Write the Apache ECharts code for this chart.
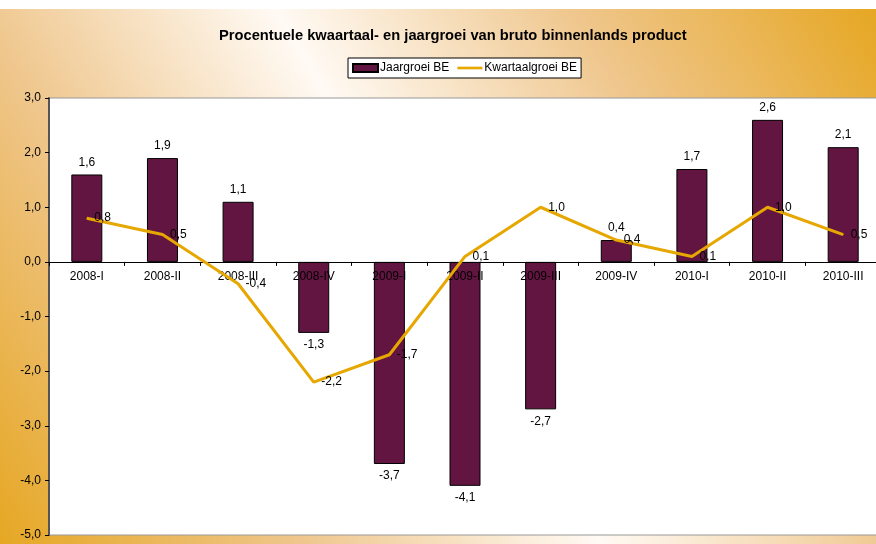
<!DOCTYPE html>
<html><head><meta charset="utf-8">
<script src="https://cdn.jsdelivr.net/npm/echarts@6/dist/echarts.min.js"></script>
<style>html,body{margin:0;padding:0;background:#fff}#c{width:876px;height:544px}</style>
</head><body><div id="c"></div>
<script>
const categories = ['2008-I','2008-II','2008-III','2008-IV','2009-I','2009-II','2009-III','2009-IV','2010-I','2010-II','2010-III'];
const jaargroei = [1.6, 1.9, 1.1, -1.3, -3.7, -4.1, -2.7, 0.4, 1.7, 2.6, 2.1];
const kwartaalgroei = [0.8, 0.5, -0.4, -2.2, -1.7, 0.1, 1.0, 0.4, 0.1, 1.0, 0.5];
const yTicks = {min: -5, max: 3, interval: 1};

const fmt = v => Number(v).toFixed(1).replace('.', ',');
const FONT = 'Liberation Sans, Arial, sans-serif';
const GRID_TOP = 98, GRID_H = 437;
// distance from grid bottom to the zero line, so category labels sit under y = 0
const zeroFromBottom = GRID_H * (0 - yTicks.min) / (yTicks.max - yTicks.min);
const chart = echarts.init(document.getElementById('c'), null, {renderer: 'canvas'});
chart.setOption({
  backgroundColor: '#ffffff',
  animation: false,
  textStyle: {fontFamily: FONT},
  graphic: [{
    type: 'rect', z: -10, silent: true,
    shape: {x: 0, y: 9, width: 876, height: 535},
    style: {fill: new echarts.graphic.LinearGradient(0, 1, 1, 0, [
      {offset: 0, color: '#E6A723'},
      {offset: 0.25, color: '#EFC68C'},
      {offset: 0.5, color: '#FFFAF4'},
      {offset: 0.75, color: '#EFC68C'},
      {offset: 1, color: '#E6A723'}
    ])}
  }],
  title: {
    text: 'Procentuele kwaartaal- en jaargroei van bruto binnenlands product',
    left: 214, top: 23,
    textStyle: {fontFamily: FONT, fontSize: 14.7, fontWeight: 'bold', color: '#000'}
  },
  legend: {
    left: 348, top: 58,
    padding: [4, 4, 4, 4],
    itemGap: 8, itemWidth: 25, itemHeight: 8,
    backgroundColor: '#fff', borderColor: '#000', borderWidth: 1,
    textStyle: {fontFamily: FONT, fontSize: 12, color: '#000', padding: [0, 0, 0, -3]},
    data: [
      {name: 'Jaargroei BE', icon: 'rect'},
      {name: 'Kwartaalgroei BE', icon: 'path://M0,0L28,0L28,3L0,3Z', itemStyle: {color: '#E6A700', borderWidth: 0}}
    ]
  },
  grid: {
    left: 49, top: GRID_TOP, width: 832, height: GRID_H,
    containLabel: false, outerBoundsMode: 'none',
    show: true, backgroundColor: '#fff', borderColor: '#999', borderWidth: 1
  },
  xAxis: {
    type: 'category', data: categories, z: 3,
    axisLine: {onZero: true, lineStyle: {color: '#000', width: 1}},
    axisTick: {show: true, length: 4, lineStyle: {color: '#000'}},
    axisLabel: {fontFamily: FONT, fontSize: 12, color: '#000', margin: 9 - zeroFromBottom},
    splitLine: {show: false}
  },
  yAxis: {
    type: 'value', min: yTicks.min, max: yTicks.max, interval: yTicks.interval,
    axisLine: {show: true, lineStyle: {color: '#555', width: 2}},
    axisTick: {show: true, length: 4, lineStyle: {color: '#000'}},
    axisLabel: {fontFamily: FONT, fontSize: 12, color: '#000', margin: 8, formatter: fmt},
    splitLine: {show: false}
  },
  series: [{
    name: 'Jaargroei BE', type: 'bar', z: 2,
    data: jaargroei.map(v => v < 0 ? {value: v, label: {position: 'bottom'}} : v),
    barWidth: 31,
    itemStyle: {color: '#631541', borderColor: '#000', borderWidth: 1},
    label: {show: true, position: 'top', distance: 6, fontFamily: FONT, fontSize: 12, color: '#000', formatter: p => fmt(p.value)}
  }, {
    name: 'Kwartaalgroei BE', type: 'line', data: kwartaalgroei, z: 4,
    symbol: 'circle', symbolSize: 1, showSymbol: true,
    lineStyle: {color: '#E6A700', width: 3},
    itemStyle: {color: '#E6A700'},
    label: {show: true, position: 'right', distance: 7, offset: [0, 0], fontFamily: FONT, fontSize: 12, color: '#000', formatter: p => fmt(p.value)}
  }]
});
</script></body></html>
